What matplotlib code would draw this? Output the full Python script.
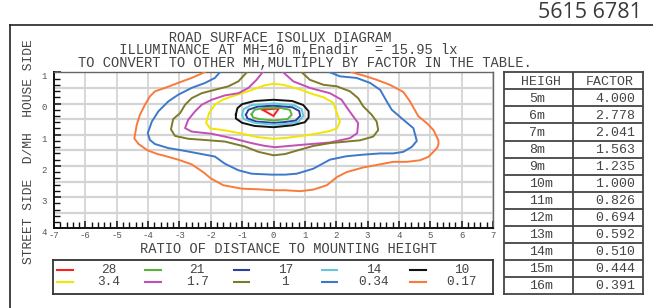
import numpy as np
import matplotlib.pyplot as plt
from matplotlib.lines import Line2D
from matplotlib.ticker import MultipleLocator
from matplotlib.transforms import ScaledTranslation

W, H = 653, 308
MONO = "Liberation Mono"
TXT = "#444444"

# isolux levels (lx) and line colours
levels = ["28", "21", "17", "14", "10", "3.4", "1.7", "1", "0.34", "0.17"]
colors = ["#ff1f1f", "#5ab33c", "#2b3f9e", "#62c8dc", "#111111",
          "#f2e600", "#c24fb4", "#7d7b2a", "#3d79c9", "#fa7a3a"]

# isolux lines, in D/MH (y > 0 = street side)
x_28 = [-0.35, 0.17, 0.00, -0.35]
y_28 = [0.20, 0.16, 0.40, 0.20]

x_21 = [-0.70, -0.60, -0.30, 0.20, 0.52, 0.58, 0.45, 0.00, -0.45, -0.65, -0.70]
y_21 = [0.34, 0.20, 0.15, 0.14, 0.20, 0.36, 0.50, 0.54, 0.50, 0.45, 0.34]

x_17 = [-0.88, -0.80, -0.50, 0.00, 0.60, 0.82, 0.85, 0.70, 0.30, 0.00, -0.55, -0.83, -0.88]
y_17 = [0.36, 0.20, 0.10, 0.07, 0.12, 0.24, 0.40, 0.55, 0.60, 0.62, 0.58, 0.48, 0.36]

x_14 = [-1.00, -0.95, -0.70, 0.00, 0.65, 0.90, 0.95, 0.80, 0.40, 0.00, -0.60, -0.95, -1.00]
y_14 = [0.36, 0.18, 0.05, 0.00, 0.05, 0.18, 0.40, 0.58, 0.66, 0.68, 0.62, 0.50, 0.36]

x_10 = [-1.20, -1.15, -1.00, -0.60, 0.00, 0.60, 0.95, 1.12, 1.12, 1.00, 0.60, 0.00,
        -0.60, -1.00, -1.20, -1.20]
y_10 = [0.35, 0.15, 0.02, -0.08, -0.12, -0.08, 0.05, 0.25, 0.45, 0.60, 0.70, 0.76,
        0.72, 0.62, 0.48, 0.35]

x_3_4 = [0.00, 0.31, 0.85, 1.16, 1.59, 1.91, 2.02, 2.12, 2.02, 1.80, 1.40, 0.90, 0.42,
         0.00, -0.50, -1.04, -1.55, -2.02, -2.15, -2.05, -1.85, -1.58, -1.10, -0.67,
         -0.30, 0.00]
y_3_4 = [-0.63, -0.60, -0.45, -0.33, -0.20, -0.02, 0.30, 0.58, 0.80, 0.88, 0.96, 1.04,
         1.10, 1.13, 1.08, 0.96, 0.86, 0.80, 0.62, 0.30, 0.02, -0.14, -0.30, -0.44,
         -0.58, -0.63]

x_1_7 = [-0.35, -0.54, -0.80, -1.12, -1.55, -1.97, -2.29, -2.50, -2.72, -2.82, -2.61,
         -1.97, -1.33, -0.70, -0.27, 0.05, 0.50, 0.95, 1.80, 2.44, 2.67, 2.70, 2.54,
         2.39, 2.17, 1.80, 1.16, 0.63, 0.31]
y_1_7 = [-1.00, -0.76, -0.50, -0.33, -0.26, -0.12, 0.04, 0.25, 0.52, 0.79, 0.90, 0.97,
         1.11, 1.27, 1.36, 1.40, 1.36, 1.32, 1.25, 1.11, 0.95, 0.63, 0.41, 0.20, -0.12,
         -0.33, -0.50, -0.71, -1.00]

x_1 = [-0.85, -1.12, -1.44, -1.87, -2.29, -2.61, -2.82, -2.98, -3.20, -3.27, -3.14,
       -2.72, -2.18, -1.55, -0.91, -0.48, 0.00, 0.37, 0.74, 1.27, 1.80, 2.33, 2.76,
       3.18, 3.34, 3.29, 3.13, 2.86, 2.70, 2.44, 2.02, 1.59, 1.16, 0.90]
y_1 = [-1.00, -0.71, -0.55, -0.44, -0.33, -0.17, 0.04, 0.31, 0.50, 0.83, 1.04, 1.13,
       1.17, 1.22, 1.38, 1.55, 1.66, 1.62, 1.51, 1.36, 1.27, 1.22, 1.18, 1.06, 0.85,
       0.58, 0.36, 0.09, -0.17, -0.39, -0.55, -0.60, -0.76, -1.00]

x_0_34 = [-1.71, -1.87, -2.18, -2.61, -3.04, -3.35, -3.67, -3.88, -4.01, -3.94, -3.78,
          -3.35, -2.93, -2.40, -1.87, -1.55, -1.12, -0.70, -0.06, 0.37, 0.74, 1.27,
          1.80, 2.33, 2.86, 3.40, 3.82, 4.14, 4.41, 4.57, 4.46, 4.14, 3.77, 3.61, 3.40,
          3.08, 2.65, 2.12, 1.80]
y_0_34 = [-1.00, -0.82, -0.66, -0.50, -0.28, -0.07, 0.25, 0.58, 0.95, 1.17, 1.30, 1.43,
          1.50, 1.60, 1.70, 1.93, 2.14, 2.25, 2.28, 2.28, 2.25, 2.09, 1.80, 1.69, 1.64,
          1.60, 1.60, 1.55, 1.39, 1.20, 0.79, 0.52, 0.20, -0.07, -0.44, -0.66, -0.82,
          -0.87, -1.00]

x_0_17 = [-2.20, -2.61, -3.04, -3.46, -3.78, -3.94, -4.10, -4.26, -4.36, -4.44, -4.30,
          -4.02, -3.70, -3.46, -3.04, -2.61, -2.24, -2.00, -1.60, -1.01, -0.48, 0.00,
          0.37, 0.85, 1.27, 1.70, 2.02, 2.33, 2.86, 3.40, 3.82, 4.25, 4.67, 4.94, 5.10,
          5.22, 5.26, 5.26, 5.10, 4.89, 4.62, 4.35, 4.14, 3.71, 3.29, 2.86, 2.49]
y_0_17 = [-1.00, -0.82, -0.66, -0.50, -0.39, -0.23, 0.04, 0.36, 0.68, 1.12, 1.30,
          1.50, 1.62, 1.68, 1.80, 1.95, 2.20, 2.40, 2.62, 2.73, 2.75, 2.78, 2.78, 2.81,
          2.76, 2.62, 2.36, 2.20, 2.05, 1.95, 1.87, 1.87, 1.82, 1.71, 1.55, 1.42, 1.30,
          1.18, 0.85, 0.63, 0.41, -0.07, -0.37, -0.60, -0.76, -0.90, -1.00]

xs = [x_28, x_21, x_17, x_14, x_10, x_3_4, x_1_7, x_1, x_0_34, x_0_17]
ys = [y_28, y_21, y_17, y_14, y_10, y_3_4, y_1_7, y_1, y_0_34, y_0_17]

x_ticks = list(range(-7, 8))
y_ticks = [-1, 0, 1, 2, 3, 4]
y_tick_labels = ["1", "0", "1", "2", "3", "4"]

heights = ["5m", "6m", "7m", "8m", "9m", "10m", "11m", "12m", "13m", "14m", "15m", "16m"]
factors = ["4.000", "2.778", "2.041", "1.563", "1.235", "1.000", "0.826", "0.694",
           "0.592", "0.510", "0.444", "0.391"]

title_lines = ["ROAD SURFACE ISOLUX DIAGRAM",
               "ILLUMINANCE AT MH=10 m,Enadir  = 15.95 lx",
               "TO CONVERT TO OTHER MH,MULTIPLY BY FACTOR IN THE TABLE."]


def fx(px):
    return px / W


def fy(py):
    return 1 - py / H


fig = plt.figure(figsize=(W / 100, H / 100), dpi=100)

# frame lines and catalogue number
fig.add_artist(Line2D([fx(10), 1], [fy(25), fy(25)], color="#222222", lw=1.2))
fig.add_artist(Line2D([fx(10), fx(10)], [fy(25), 0], color="#222222", lw=1.2))
fig.text(fx(642), fy(13), "5615 6781", family="Open Sans", fontsize=15.5,
         color="#3a3a3a", ha="right", va="center")

# title, one block; leading blanks give the staggered starts of the lines
title = "\n".join([" " * 11 + title_lines[0], " " * 5 + title_lines[1], title_lines[2]])
fig.text(fx(78), fy(50.3), title, family=MONO, fontsize=9.9, color=TXT,
         ha="left", va="center", multialignment="left", linespacing=0.88)

# isolux diagram
ax = fig.add_axes([fx(54), fy(228.3), fx(493) - fx(54), fy(72.3) - fy(228.3)])
for v in x_ticks:
    ax.axvline(v, color="#d4d4d4", lw=1.3, zorder=0)
for v in np.arange(-0.5, 4.0, 0.5):
    ax.axhline(v, color="#d4d4d4", lw=1.6, zorder=0)

for x, y, c in zip(xs, ys, colors):
    ax.plot(x, y, color=c, lw=1.4, zorder=3)

ax.set_xlim(-7, 7)
ax.set_ylim(4, -1)
ax.set_xticks(x_ticks)
ax.set_xticklabels([str(v) for v in x_ticks])
ax.set_yticks(y_ticks)
ax.set_yticklabels(y_tick_labels)
ax.xaxis.set_minor_locator(MultipleLocator(0.2))
ax.yaxis.set_minor_locator(MultipleLocator(0.2))
ax.tick_params(which="both", direction="in", top=False, right=False, color="#111111")
ax.tick_params(which="major", length=5, width=1.1, labelsize=6.5, labelcolor="#555555")
ax.tick_params(which="minor", length=4, width=1.0)
ax.tick_params(axis="y", pad=5)
ax.tick_params(axis="x", pad=2)
for lab in ax.get_xticklabels() + ax.get_yticklabels():
    lab.set_family(MONO)
shift = ScaledTranslation(0, -3.5 / 100, fig.dpi_scale_trans)
for lab in ax.get_yticklabels():
    lab.set_transform(lab.get_transform() + shift)
for side in ["top", "right"]:
    ax.spines[side].set_color("#666666")
    ax.spines[side].set_linewidth(1.0)
for side in ["left", "bottom"]:
    ax.spines[side].set_color("#111111")
    ax.spines[side].set_linewidth(1.4)

fig.text(fx(288), fy(249), "RATIO OF DISTANCE TO MOUNTING HEIGHT", family=MONO,
         fontsize=9.9, color=TXT, ha="center", va="center")
fig.text(fx(29), fy(151.5), "STREET SIDE  D/MH  HOUSE SIDE", family=MONO,
         fontsize=9.4, color=TXT, ha="center", va="center", rotation=90)

# legend box
lg = fig.add_axes([fx(52.7), fy(294), fx(493.3) - fx(52.7), fy(260) - fy(294)])
lg.set_xlim(52.7, 493.3)
lg.set_ylim(294, 260)
lg.set_xticks([])
lg.set_yticks([])
for s in lg.spines.values():
    s.set_color("#333333")
    s.set_linewidth(1.3)
for i, (lev, c) in enumerate(zip(levels, colors)):
    col, row = i % 5, i // 5
    x0 = 57.3 + col * 88.2
    yy = 270 + row * 11.7
    lg.plot([x0, x0 + 15.5], [yy, yy], color=c, lw=1.5)
    lg.text(x0 + 51.5, yy, lev, family=MONO, fontsize=9.2, color=TXT,
            ha="center", va="center")

# factor table
tb = fig.add_axes([fx(504), fy(294), fx(643.3) - fx(504), fy(72.3) - fy(294)])
tb.set_xlim(504, 643.3)
tb.set_ylim(294, 72.3)
tb.set_xticks([])
tb.set_yticks([])
for s in tb.spines.values():
    s.set_color("#444444")
    s.set_linewidth(1.3)
row_h = (294 - 72.3) / 13
tb.axvline(573.3, color="#444444", lw=1.3)
for r in range(1, 13):
    tb.axhline(72.3 + r * row_h, color="#444444", lw=1.3)
tb.text(540.5, 72.3 + 0.55 * row_h, "HEIGH", family=MONO, fontsize=9.5, color=TXT,
        ha="center", va="center")
tb.text(610, 72.3 + 0.55 * row_h, "FACTOR", family=MONO, fontsize=9.5, color=TXT,
        ha="center", va="center")
for r, (h, f) in enumerate(zip(heights, factors), start=1):
    yc = 72.3 + (r + 0.55) * row_h
    tb.text(529, yc, h, family=MONO, fontsize=9.5, color=TXT, ha="left", va="center")
    tb.text(635.5, yc, f, family=MONO, fontsize=9.5, color=TXT, ha="right", va="center")

fig.savefig("out.png", dpi=100)
